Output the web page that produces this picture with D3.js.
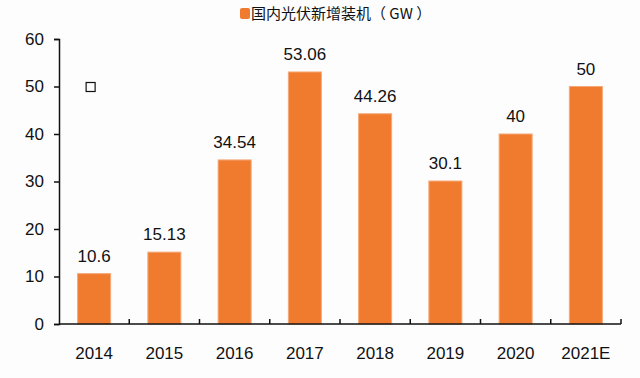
<!DOCTYPE html>
<html>
<head>
<meta charset="utf-8">
<script src="https://cdn.jsdelivr.net/npm/d3@7"></script>
<style>
  body { margin: 0; background: #fdfdfe; }
  svg { display: block; }
  text { font-family: "Liberation Sans", Arial, sans-serif; fill: #111; }
</style>
</head>
<body>
<svg id="chart" width="640" height="378"></svg>
<script>
// chart data
var years = ["2014", "2015", "2016", "2017", "2018", "2019", "2020", "2021E"];
var capacity = [10.6, 15.13, 34.54, 53.06, 44.26, 30.1, 40, 50];
var valueLabels = ["10.6", "15.13", "34.54", "53.06", "44.26", "30.1", "40", "50"];
var yTicks = [0, 10, 20, 30, 40, 50, 60];
var legendLabel = "国内光伏新增装机（ GW ）";

var margin = {top: 39, left: 59, right: 19, bottom: 54};
var width = 640, height = 378;

var svg = d3.select("#chart");

var x = d3.scaleBand()
    .domain(years)
    .range([margin.left, width - margin.right])
    .paddingInner(0.53)
    .paddingOuter(0.265);

var y = d3.scaleLinear()
    .domain([0, 60])
    .range([height - margin.bottom, margin.top]);

// bars
svg.append("g").selectAll("rect")
    .data(capacity)
    .enter().append("rect")
    .attr("x", function (d, i) { return x(years[i]); })
    .attr("y", function (d) { return y(d); })
    .attr("width", x.bandwidth())
    .attr("height", function (d) { return y(0) - y(d); })
    .attr("fill", "#f07b2e")
    .attr("stroke", "#f5a877")
    .attr("stroke-width", 1);

// value labels
svg.append("g").selectAll("text")
    .data(capacity)
    .enter().append("text")
    .attr("x", function (d, i) { return x(years[i]) + x.bandwidth() / 2; })
    .attr("y", function (d) { return y(d) - 12; })
    .attr("text-anchor", "middle")
    .style("font-size", "17px")
    .text(function (d, i) { return valueLabels[i]; });

// y axis
var yAxis = svg.append("g")
    .attr("transform", "translate(" + margin.left + ",0)")
    .call(d3.axisLeft(y).tickValues(yTicks).tickSize(5).tickPadding(10));
yAxis.select(".domain").attr("stroke", "#111").attr("stroke-width", 1.5);
yAxis.selectAll(".tick line").attr("stroke", "#111").attr("stroke-width", 1.5);
yAxis.selectAll(".tick text").style("font-size", "17px").attr("fill", "#111");

// x axis: line with inward ticks at band boundaries
var xg = svg.append("g").attr("transform", "translate(0," + y(0) + ")");
xg.append("line")
    .attr("x1", margin.left).attr("x2", width - margin.right)
    .attr("stroke", "#111").attr("stroke-width", 1.5);
var step = x.step();
xg.selectAll("line.tk")
    .data(years)
    .enter().append("line")
    .attr("class", "tk")
    .attr("x1", function (d) { return x(d) - step * x.paddingInner() / 2 + step; })
    .attr("x2", function (d) { return x(d) - step * x.paddingInner() / 2 + step; })
    .attr("y1", 0).attr("y2", -5)
    .attr("stroke", "#111").attr("stroke-width", 1.5);
xg.selectAll("text")
    .data(years)
    .enter().append("text")
    .attr("x", function (d) { return x(d) + x.bandwidth() / 2; })
    .attr("y", 35)
    .attr("text-anchor", "middle")
    .style("font-size", "17px")
    .text(function (d) { return d; });

// stray marker near 2014
svg.append("rect")
    .attr("x", x("2014") + x.bandwidth() / 2 - 8)
    .attr("y", y(50) - 4)
    .attr("width", 9).attr("height", 9)
    .attr("fill", "none")
    .attr("stroke", "#111")
    .attr("stroke-width", 1.2);

// legend
var lg = svg.append("g").attr("transform", "translate(240,8)");
lg.append("rect")
    .attr("width", 10).attr("height", 11).attr("rx", 2)
    .attr("fill", "#f07b2e");
lg.append("text")
    .attr("x", 11).attr("y", 11)
    .style("font-family", "'Noto Sans CJK SC', sans-serif")
    .style("font-size", "15px")
    .text(legendLabel);
</script>
</body>
</html>
